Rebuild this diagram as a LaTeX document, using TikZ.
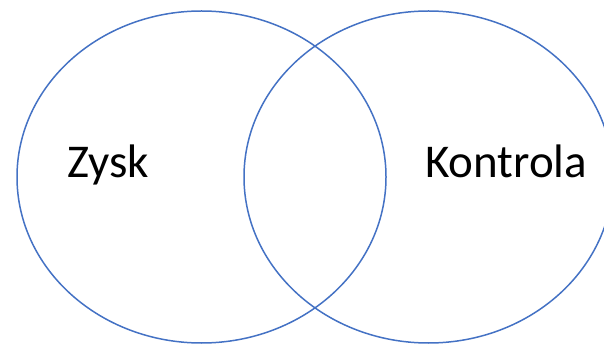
\documentclass[tikz,border=0pt]{standalone}
\usepackage{fontspec}
\setmainfont{Carlito}
\definecolor{vennblue}{RGB}{68,114,196}
\begin{document}
\begin{tikzpicture}[x=1pt,y=-1pt,
  venn/.style={draw=vennblue,line width=1.5pt},
  lbl/.style={anchor=base west,inner sep=0pt,font=\fontsize{47}{56}\selectfont}]
\useasboundingbox (0,0) rectangle (604,344);
\begin{scope}
\clip (0,0) rectangle (604,344);
\draw[venn] (201.5,177) ellipse [x radius=184.5, y radius=166];
\draw[venn] (428.5,177) ellipse [x radius=184.5, y radius=166];
\end{scope}
\node[lbl] (zysk) at (67,178) {Zysk};
\node[lbl] (kontrola) at (425,178) {Kontrola};
\end{tikzpicture}
\end{document}
